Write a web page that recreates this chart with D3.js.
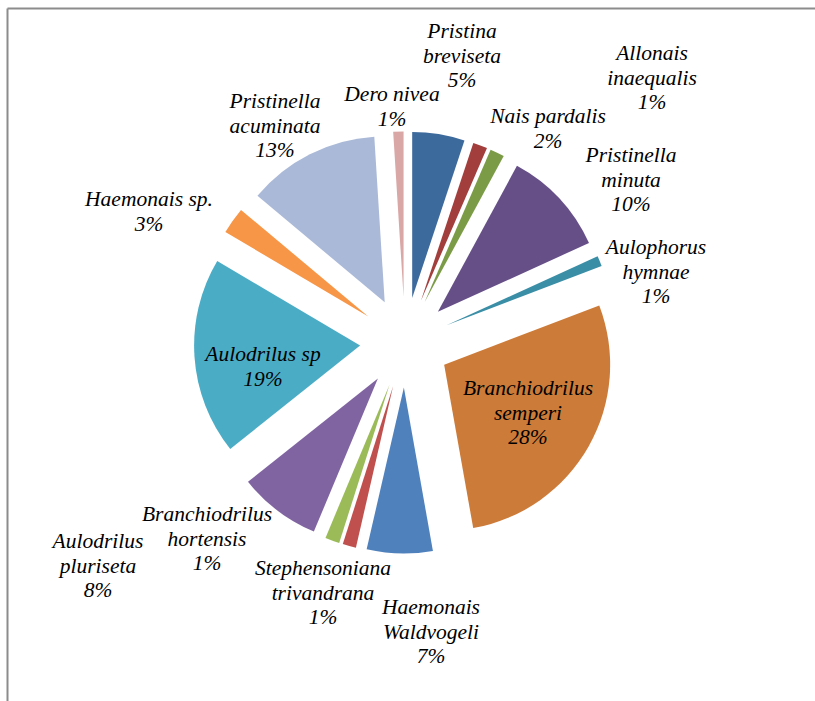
<!DOCTYPE html>
<html><head><meta charset="utf-8">
<script src="https://cdn.jsdelivr.net/npm/d3@7"></script>
<style>body{margin:0;background:#fff}svg{display:block}</style>
</head><body>
<svg id="c" width="815" height="701"></svg>
<script>
// Data
const species = ["Pristina breviseta","Allonais inaequalis","Nais pardalis","Pristinella minuta","Aulophorus hymnae","Branchiodrilus semperi","Haemonais Waldvogeli","Stephensoniana trivandrana","Branchiodrilus hortensis","Aulodrilus pluriseta","Aulodrilus sp","Haemonais sp.","Pristinella acuminata","Dero nivea"];
// slice shares
const shares = [5.1,1.4,1.4,10.3,1.0,28.0,6.4,1.3,1.4,8.0,19.2,2.6,12.9,1.0];
// percentages printed in the labels
const percentLabels = [5,1,2,10,1,28,7,1,1,8,19,3,13,1];
// label line-breaks
const labelLines = [["Pristina","breviseta"],["Allonais","inaequalis"],["Nais pardalis"],["Pristinella","minuta"],["Aulophorus","hymnae"],["Branchiodrilus","semperi"],["Haemonais","Waldvogeli"],["Stephensoniana","trivandrana"],["Branchiodrilus","hortensis"],["Aulodrilus","pluriseta"],["Aulodrilus sp"],["Haemonais sp."],["Pristinella","acuminata"],["Dero nivea"]];

// Styles / layout
const colors = ["#3D6A9C","#A23E3B","#7B9B47","#664F87","#3A8EA6","#CD7B38","#4F81BD","#C0504D","#9BBB59","#8064A2","#4BACC6","#F79646","#AAB9D7","#D9A7A6"];
const labelPos = [[462,31],[652,53],[548,116],[631,155],[656,247],[528,388],[431,607],[323,568],[207,514],[98,541],[263,354],[149,199],[275,101],[392,94]];
const cx = 405, cy = 342.5, R = 166, explode = 45, lineH = 24.5;

const svg = d3.select("#c");
svg.append("line").attr("x1",7.5).attr("y1",8.5).attr("x2",815).attr("y2",8.5).attr("stroke","#8c8c8c").attr("stroke-width",2);
svg.append("line").attr("x1",7.5).attr("y1",8.5).attr("x2",7.5).attr("y2",701).attr("stroke","#8c8c8c").attr("stroke-width",2);

const pie = d3.pie().sort(null).value(d=>d)(shares);
const arc = d3.arc().innerRadius(0).outerRadius(R);
const g = svg.append("g").attr("transform",`translate(${cx},${cy})`);
g.selectAll("path").data(pie).join("path")
  .attr("d",arc)
  .attr("fill",(d,i)=>colors[i])
  .attr("transform",d=>{const a=(d.startAngle+d.endAngle)/2;return `translate(${explode*Math.sin(a)},${-explode*Math.cos(a)})`;});

const lg = svg.append("g").attr("font-family","'Liberation Serif','Times New Roman',serif").attr("font-style","italic").attr("font-size","21.5px").attr("fill","#000").attr("text-anchor","middle");
species.forEach((s,i)=>{
  const lines = labelLines[i].concat([percentLabels[i]+"%"]);
  const t = lg.append("text").attr("x",labelPos[i][0]).attr("y",labelPos[i][1]).attr("dominant-baseline","central");
  lines.forEach((ln,j)=>t.append("tspan").attr("x",labelPos[i][0]).attr("y",labelPos[i][1]+j*lineH).text(ln));
});
</script>
</body></html>
